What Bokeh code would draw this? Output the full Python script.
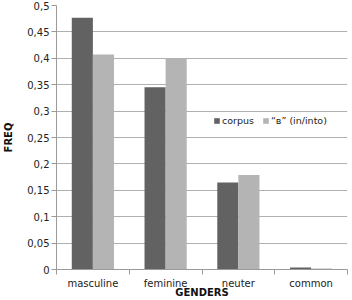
from bokeh.plotting import figure
from bokeh.models import ColumnDataSource, FixedTicker, CustomJSTickFormatter, Legend, LegendItem, Range1d
from bokeh.transform import dodge
from bokeh.embed import file_html
from bokeh.resources import INLINE

# Relative frequency of noun genders: whole corpus vs. nouns after "в"
genders = ["masculine", "feminine", "neuter", "common"]
corpus = [0.477, 0.345, 0.165, 0.004]
v_in_into = [0.407, 0.399, 0.179, 0.002]
y_ticks = [0, 0.05, 0.1, 0.15, 0.2, 0.25, 0.3, 0.35, 0.4, 0.45, 0.5]

FONT = "DejaVu Sans"
DARK = "#626262"
LIGHT = "#b4b4b4"
AXIS = "#9a9a9a"

pos = [i + 0.5 for i in range(len(genders))]
src = ColumnDataSource(dict(x=pos, corpus=corpus, v=v_in_into))

p = figure(width=352, height=300, output_backend="svg", toolbar_location=None,
           x_range=Range1d(0, len(genders)), y_range=Range1d(0, 0.5),
           min_border_left=4, min_border_right=5, min_border_top=5, min_border_bottom=0)
p.outline_line_color = None
p.background_fill_color = "white"

r1 = p.vbar(x=dodge("x", -0.145, range=p.x_range), top="corpus", width=0.29,
            source=src, fill_color=DARK, line_color=None)
r2 = p.vbar(x=dodge("x", 0.145, range=p.x_range), top="v", width=0.29,
            source=src, fill_color=LIGHT, line_color=None)

# x axis: labels at category centres, tick marks on the boundaries
xa = p.xaxis[0]
xa.ticker = FixedTicker(ticks=pos, minor_ticks=list(range(len(genders) + 1)))
xa.major_label_overrides = {p_: g for p_, g in zip(pos, genders)}
xa.major_tick_out = 0
xa.major_tick_in = 0
xa.minor_tick_line_color = AXIS
xa.minor_tick_out = 5
xa.minor_tick_in = 0
xa.major_label_standoff = 3
xa.axis_label = "GENDERS"
xa.axis_label_standoff = -5

ya = p.yaxis[0]
ya.ticker = FixedTicker(ticks=y_ticks, minor_ticks=[])
ya.formatter = CustomJSTickFormatter(code="return String(Math.round(tick*100)/100).replace('.', ',');")
ya.major_tick_out = 5
ya.major_tick_in = 0
ya.major_label_standoff = 2
ya.axis_label = "FREQ"
ya.axis_label_standoff = 10

for ax in (xa, ya):
    ax.axis_line_color = AXIS
    ax.major_tick_line_color = AXIS if ax is ya else None
    ax.major_label_text_font = FONT
    ax.major_label_text_font_size = "10px"
    ax.major_label_text_color = "#222222"
    ax.axis_label_text_font = FONT
    ax.axis_label_text_font_size = "10px"
    ax.axis_label_text_font_style = "bold"
    ax.axis_label_text_color = "#111111"

p.xgrid.grid_line_color = None
p.ygrid.grid_line_color = "#b0b0b0"
p.ygrid.ticker = FixedTicker(ticks=y_ticks)

legend = Legend(items=[LegendItem(label="corpus", renderers=[r1]),
                       LegendItem(label="“в” (in/into)", renderers=[r2])],
                orientation="horizontal", location=(157, 143))
legend.glyph_width = 7
legend.glyph_height = 7
legend.label_text_font = FONT
legend.label_text_font_size = "9.5px"
legend.label_text_color = "#222222"
legend.label_standoff = 2
legend.spacing = 8
legend.padding = 6
legend.margin = 0
legend.border_line_color = None
legend.background_fill_color = "white"
legend.background_fill_alpha = 1
p.add_layout(legend)

open("out.html", "w").write(file_html(p, INLINE))
